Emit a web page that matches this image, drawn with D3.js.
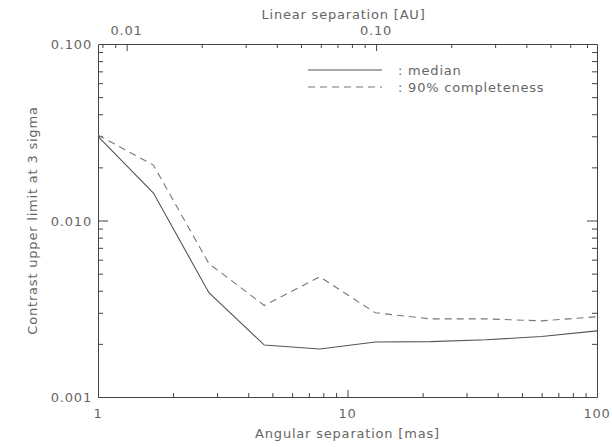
<!DOCTYPE html>
<html>
<head>
<meta charset="utf-8">
<script src="https://cdn.jsdelivr.net/npm/d3@7"></script>
<style>
    body { margin: 0; background: #fff; }
    text { font-family: "DejaVu Sans", sans-serif; fill: #666; font-size: 13px; letter-spacing: 0.8px; }
</style>
</head>
<body>
<div id="chart"></div>
<script>
// angular separation [mas] of the sampled points
const separations = [1, 1.668, 2.783, 4.642, 7.743, 12.92, 21.54, 35.94, 59.95, 100];
const medianContrast = [0.0300, 0.0143, 0.0039, 0.00197, 0.00187, 0.00205, 0.00206, 0.00211, 0.00220, 0.00237];
const completeContrast = [0.0305, 0.0206, 0.0057, 0.0033, 0.0048, 0.0030, 0.00277, 0.00277, 0.00270, 0.00285];

const yTickValues = [0.001, 0.01, 0.1];
const yTickLabels = ["0.001", "0.010", "0.100"];
const xTickValues = [1, 10, 100];
const auTickValues = [0.01, 0.1];
const auTickLabels = ["0.01", "0.10"];
const distancePc = 7.68; // AU = mas * pc / 1000

const width = 612, height = 447;
const margin = { top: 44, right: 15, bottom: 50, left: 98 };

const svg = d3.select("#chart").append("svg")
    .attr("width", width)
    .attr("height", height);

const x = d3.scaleLog().domain([1, 100]).range([margin.left, width - margin.right]);
const y = d3.scaleLog().domain([0.001, 0.1]).range([height - margin.bottom, margin.top]);
const xAU = d3.scaleLog()
    .domain([distancePc / 1000, 100 * distancePc / 1000])
    .range(x.range());

const axisColor = "#444";

// minor ticks within each decade
function minorTicks(lo, hi) {
    const out = [];
    for (let d = Math.floor(Math.log10(lo)); d < Math.ceil(Math.log10(hi)); d++) {
        for (let k = 1; k < 10; k++) {
            const v = k * Math.pow(10, d);
            if (v >= lo && v <= hi) out.push(v);
        }
    }
    return out;
}
const isMajor = (list, d) => list.some(v => Math.abs(v - d) / v < 1e-6);

const x0 = x.range()[0], x1 = x.range()[1];
const y0 = y.range()[0], y1 = y.range()[1];

// bottom axis (ticks pointing up)
const gb = svg.append("g").attr("transform", `translate(0,${y0})`)
    .call(d3.axisBottom(x).tickValues(minorTicks(1, 100)).tickSizeInner(0).tickSizeOuter(0).tickFormat(""));
gb.selectAll(".tick line")
    .attr("y2", d => isMajor(xTickValues, d) ? -7 : -4)
    .attr("stroke", axisColor);
gb.select(".domain").attr("stroke", axisColor);

// top axis in AU (ticks pointing down)
const gt = svg.append("g").attr("transform", `translate(0,${y1})`)
    .call(d3.axisTop(xAU).tickValues(minorTicks(xAU.domain()[0], xAU.domain()[1]))
        .tickSizeInner(0).tickSizeOuter(0).tickFormat(""));
gt.selectAll(".tick line")
    .attr("y2", d => isMajor(auTickValues, d) ? 7 : 4)
    .attr("stroke", axisColor);
gt.select(".domain").attr("stroke", axisColor);

// left and right axes
const yMinor = minorTicks(0.001, 0.1);
const gl = svg.append("g").attr("transform", `translate(${x0},0)`)
    .call(d3.axisLeft(y).tickValues(yMinor).tickSizeInner(0).tickSizeOuter(0).tickFormat(""));
gl.selectAll(".tick line")
    .attr("x2", d => isMajor(yTickValues, d) ? 10 : 5)
    .attr("stroke", axisColor);
gl.select(".domain").attr("stroke", axisColor);

const gr = svg.append("g").attr("transform", `translate(${x1},0)`)
    .call(d3.axisRight(y).tickValues(yMinor).tickSizeInner(0).tickSizeOuter(0).tickFormat(""));
gr.selectAll(".tick line")
    .attr("x2", d => isMajor(yTickValues, d) ? -10 : -5)
    .attr("stroke", axisColor);
gr.select(".domain").attr("stroke", axisColor);

// tick labels
svg.append("g").selectAll("text")
    .data(xTickValues)
    .join("text")
    .attr("x", d => x(d))
    .attr("y", y0 + 21)
    .attr("text-anchor", "middle")
    .text(d => d);

svg.append("g").selectAll("text")
    .data(auTickValues)
    .join("text")
    .attr("x", d => xAU(d))
    .attr("y", y1 - 9)
    .attr("text-anchor", "middle")
    .text((d, i) => auTickLabels[i]);

svg.append("g").selectAll("text")
    .data(yTickValues)
    .join("text")
    .attr("x", x0 - 6)
    .attr("y", d => y(d) + 5)
    .attr("text-anchor", "end")
    .text((d, i) => yTickLabels[i]);

// axis titles
svg.append("text")
    .attr("x", (x0 + x1) / 2)
    .attr("y", y0 + 41)
    .attr("text-anchor", "middle")
    .text("Angular separation [mas]");

svg.append("text")
    .attr("x", (x0 + x1) / 2 - 4)
    .attr("y", 19)
    .attr("text-anchor", "middle")
    .text("Linear separation [AU]");

svg.append("text")
    .attr("transform", `translate(37,${(y0 + y1) / 2}) rotate(-90)`)
    .attr("text-anchor", "middle")
    .text("Contrast upper limit at 3 sigma");

// curves
const line = d3.line().x(d => x(d[0])).y(d => y(d[1]));

svg.append("path")
    .datum(separations.map((s, i) => [s, medianContrast[i]]))
    .attr("d", line)
    .attr("fill", "none")
    .attr("stroke", "#555")
    .attr("stroke-width", 1.1);

svg.append("path")
    .datum(separations.map((s, i) => [s, completeContrast[i]]))
    .attr("d", line)
    .attr("fill", "none")
    .attr("stroke", "#777")
    .attr("stroke-width", 1.1)
    .attr("stroke-dasharray", "7,5");

// legend
const legend = [
    { label: ": median", dash: null, color: "#555" },
    { label: ": 90% completeness", dash: "7,5", color: "#777" }
];
const lg = svg.append("g").selectAll("g")
    .data(legend)
    .join("g")
    .attr("transform", (d, i) => `translate(308,${70 + i * 17})`);
lg.append("line")
    .attr("x1", 0).attr("x2", 74)
    .attr("stroke", d => d.color)
    .attr("stroke-width", 1.1)
    .attr("stroke-dasharray", d => d.dash);
lg.append("text")
    .attr("x", 90)
    .attr("y", 5)
    .text(d => d.label);
</script>
</body>
</html>
